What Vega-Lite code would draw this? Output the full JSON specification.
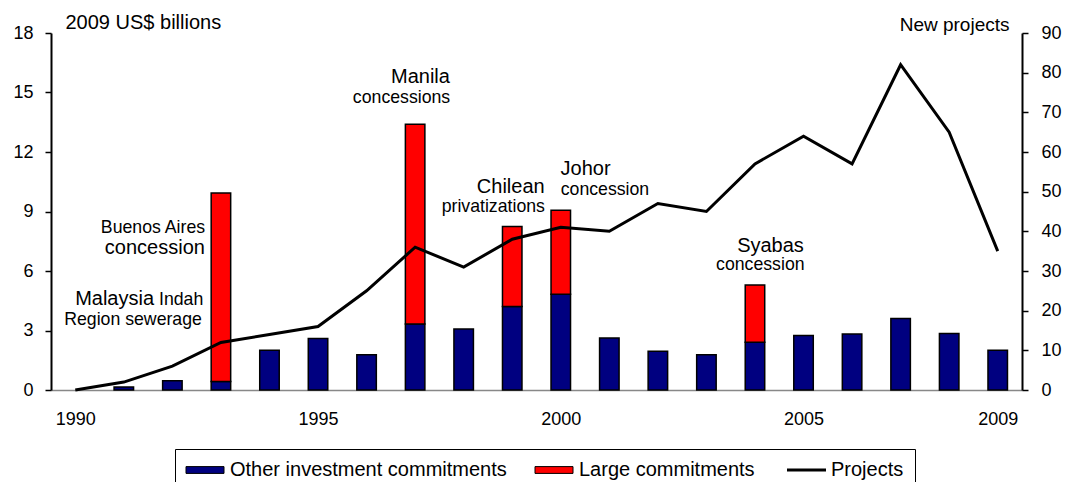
{
  "$schema": "https://vega.github.io/schema/vega-lite/v6.json",
  "width": 971,
  "height": 357,
  "autosize": "none",
  "padding": {"left": 51, "top": 33, "right": 44, "bottom": 92},
  "background": "white",
  "config": {
    "font": "Liberation Sans",
    "view": {"stroke": null},
    "axis": {"labelFont": "Liberation Sans", "titleFont": "Liberation Sans", "labelColor": "black", "titleColor": "black", "grid": false, "titleFontWeight": "normal"},
    "text": {"font": "Liberation Sans"}
  },
  "datasets": {
    "bars": [
      {"year": 1991, "series": "Other investment commitments", "value": 0.15},
      {"year": 1992, "series": "Other investment commitments", "value": 0.47},
      {"year": 1993, "series": "Other investment commitments", "value": 0.43},
      {"year": 1993, "series": "Large commitments", "value": 9.5},
      {"year": 1994, "series": "Other investment commitments", "value": 2.0},
      {"year": 1995, "series": "Other investment commitments", "value": 2.6},
      {"year": 1996, "series": "Other investment commitments", "value": 1.78},
      {"year": 1997, "series": "Other investment commitments", "value": 3.33},
      {"year": 1997, "series": "Large commitments", "value": 10.07},
      {"year": 1998, "series": "Other investment commitments", "value": 3.07},
      {"year": 1999, "series": "Other investment commitments", "value": 4.21},
      {"year": 1999, "series": "Large commitments", "value": 4.04},
      {"year": 2000, "series": "Other investment commitments", "value": 4.83},
      {"year": 2000, "series": "Large commitments", "value": 4.23},
      {"year": 2001, "series": "Other investment commitments", "value": 2.62},
      {"year": 2002, "series": "Other investment commitments", "value": 1.95},
      {"year": 2003, "series": "Other investment commitments", "value": 1.78},
      {"year": 2004, "series": "Other investment commitments", "value": 2.41},
      {"year": 2004, "series": "Large commitments", "value": 2.89},
      {"year": 2005, "series": "Other investment commitments", "value": 2.75},
      {"year": 2006, "series": "Other investment commitments", "value": 2.82},
      {"year": 2007, "series": "Other investment commitments", "value": 3.6},
      {"year": 2008, "series": "Other investment commitments", "value": 2.85},
      {"year": 2009, "series": "Other investment commitments", "value": 2.0}
    ],
    "projects": [
      {"year": 1990, "projects": 0},
      {"year": 1991, "projects": 2},
      {"year": 1992, "projects": 6},
      {"year": 1993, "projects": 12},
      {"year": 1994, "projects": 14},
      {"year": 1995, "projects": 16},
      {"year": 1996, "projects": 25},
      {"year": 1997, "projects": 36},
      {"year": 1998, "projects": 31},
      {"year": 1999, "projects": 38},
      {"year": 2000, "projects": 41},
      {"year": 2001, "projects": 40},
      {"year": 2002, "projects": 47},
      {"year": 2003, "projects": 45},
      {"year": 2004, "projects": 57},
      {"year": 2005, "projects": 64},
      {"year": 2006, "projects": 57},
      {"year": 2007, "projects": 82},
      {"year": 2008, "projects": 65},
      {"year": 2009, "projects": 35}
    ],
    "notesLarge": [
      {"x": 1991.64, "y": 6.86, "text": "concession"},
      {"x": 1990.81, "y": 4.30, "text": "Malaysia"},
      {"x": 1997.11, "y": 15.50, "text": "Manila"},
      {"x": 1998.97, "y": 9.95, "text": "Chilean"},
      {"x": 2000.51, "y": 10.84, "text": "Johor"},
      {"x": 2004.32, "y": 6.98, "text": "Syabas"}
    ],
    "notesSmall": [
      {"x": 1991.60, "y": 7.90, "text": "Buenos Aires"},
      {"x": 1992.18, "y": 4.30, "text": "Indah"},
      {"x": 1991.19, "y": 3.30, "text": "Region sewerage"},
      {"x": 1996.72, "y": 14.46, "text": "concessions"},
      {"x": 1998.61, "y": 8.98, "text": "privatizations"},
      {"x": 2000.91, "y": 9.83, "text": "concession"},
      {"x": 2004.11, "y": 6.05, "text": "concession"}
    ]
  },
  "layer": [
    {
      "layer": [
        {
          "data": {"name": "bars"},
          "mark": {"type": "bar", "size": 19.5, "stroke": "black", "strokeWidth": 1.5},
          "encoding": {
            "x": {
              "field": "year", "type": "quantitative", "title": null,
              "scale": {"domain": [1989.5, 2009.5], "nice": false, "zero": false, "padding": 0},
              "axis": {"values": [1990, 1995, 2000, 2005, 2009], "format": "d", "ticks": false, "tickSize": 0, "labelPadding": 20, "labelFontSize": 18, "domainColor": "#888888", "domainWidth": 1.5, "labelFlush": false}
            },
            "y": {
              "field": "value", "type": "quantitative", "stack": "zero", "title": "2009 US$ billions",
              "scale": {"domain": [0, 18], "nice": false},
              "axis": {"values": [0, 3, 6, 9, 12, 15, 18], "tickSize": 6, "tickColor": "black", "tickWidth": 1.5, "domainColor": "black", "domainWidth": 2, "labelPadding": 12, "labelFontSize": 18, "titleAngle": 0, "titleAlign": "left", "titleBaseline": "alphabetic", "titleX": 14, "titleY": -5, "titleFontSize": 20}
            },
            "color": {
              "field": "series", "type": "nominal",
              "scale": {"domain": ["Other investment commitments", "Large commitments", "Projects"], "range": ["#000080", "#ff0000", "#000000"]},
              "legend": {
                "orient": "none", "legendX": 124, "legendY": 416, "direction": "horizontal", "title": null,
                "strokeColor": "black", "padding": 11, "labelFontSize": 20, "labelColor": "black", "labelLimit": 400,
                "symbolSize": 400, "labelOffset": 24, "columnPadding": 26, "symbolStrokeColor": "black", "symbolStrokeWidth": 1,
                "encode": {
                  "symbols": {
                    "update": {
                      "shape": {"signal": "datum.label === 'Projects' ? 'M-1,0H2.9' : 'M-1,-0.34H2.8V0.34H-1Z'"},
                      "strokeWidth": {"signal": "datum.label === 'Projects' ? 3 : 1"}
                    }
                  }
                }
              }
            },
            "order": {"field": "series", "sort": "descending"}
          }
        },
        {
          "data": {"name": "notesLarge"},
          "mark": {"type": "text", "fontSize": 20, "align": "center", "baseline": "alphabetic", "color": "black"},
          "encoding": {
            "x": {"field": "x", "type": "quantitative", "title": null},
            "y": {"field": "y", "type": "quantitative", "title": "2009 US$ billions"},
            "text": {"field": "text"}
          }
        },
        {
          "data": {"name": "notesSmall"},
          "mark": {"type": "text", "fontSize": 17.7, "align": "center", "baseline": "alphabetic", "color": "black"},
          "encoding": {
            "x": {"field": "x", "type": "quantitative", "title": null},
            "y": {"field": "y", "type": "quantitative", "title": "2009 US$ billions"},
            "text": {"field": "text"}
          }
        }
      ]
    },
    {
      "data": {"name": "projects"},
      "mark": {"type": "line", "color": "black", "strokeWidth": 3},
      "encoding": {
        "x": {"field": "year", "type": "quantitative", "title": null},
        "y": {
          "field": "projects", "type": "quantitative", "title": "New projects",
          "scale": {"domain": [0, 90], "nice": false},
          "axis": {"orient": "right", "values": [0, 10, 20, 30, 40, 50, 60, 70, 80, 90], "tickSize": 6, "tickColor": "black", "tickWidth": 1.5, "domainColor": "black", "domainWidth": 2, "labelPadding": 13, "labelFontSize": 18, "titleAngle": 0, "titleAlign": "right", "titleBaseline": "alphabetic", "titleX": -13, "titleY": -3, "titleFontSize": 19}
        }
      }
    }
  ],
  "resolve": {"scale": {"y": "independent"}}
}
